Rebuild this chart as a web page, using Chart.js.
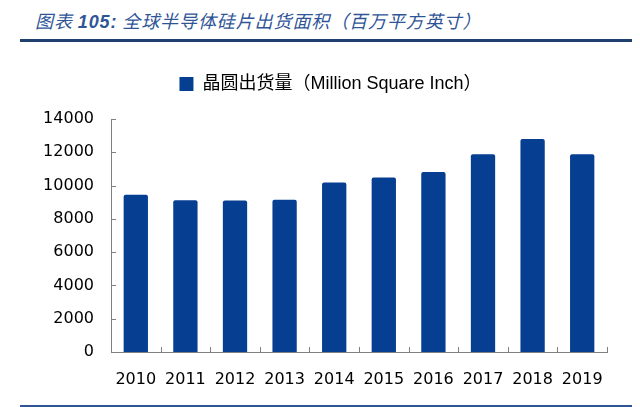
<!DOCTYPE html>
<html>
<head>
<meta charset="utf-8">
<script src="https://cdn.jsdelivr.net/npm/chart.js@4"></script>
<style>
  html, body { margin: 0; padding: 0; background: #fff; }
  body { width: 640px; height: 407px; position: relative; overflow: hidden; }
  #title { position: absolute; left: 35px; top: 7px; font: italic 18px "Noto Sans CJK SC", "DejaVu Sans", sans-serif; color: #2f5597; letter-spacing: 0.9px; white-space: nowrap; }
  #title b { font-family: "Liberation Sans", "DejaVu Sans", sans-serif; font-weight: bold; font-style: italic; }
  #topline { position: absolute; left: 20px; top: 39px; width: 612px; height: 3px; background: #1f3f6e; }
  #botline { position: absolute; left: 20px; top: 405px; width: 612px; height: 2px; background: #2f5597; }
  #wrap { position: absolute; left: 0; top: 0; width: 640px; height: 407px; }
</style>
</head>
<body>
<div id="title">图表 <b>105:</b> 全球半导体硅片出货面积（百万平方英寸）</div>
<div id="topline"></div>
<div id="botline"></div>
<div id="wrap"><canvas id="c" width="640" height="407"></canvas></div>
<script>
const categories = ["2010", "2011", "2012", "2013", "2014", "2015", "2016", "2017", "2018", "2019"];
const seriesName = "晶圆出货量（Million Square Inch）";
const shipments = [9450, 9120, 9100, 9150, 10180, 10490, 10810, 11880, 12800, 11880];
const yTicks = [0, 2000, 4000, 6000, 8000, 10000, 12000, 14000];

const barColor = "#063f92";
const axisColor = "#808080";

const innerTicks = {
  id: "innerTicks",
  beforeLayout(chart) {
    const lg = chart.legend;
    if (lg && !lg._extraGap) {
      const orig = lg.fit.bind(lg);
      lg.fit = function () { orig(); this.height += 16; };
      lg._extraGap = true;
    }
  },
  afterLayout(chart) {
    const lg = chart.legend;
    if (lg) { lg.left += 27; lg.right += 27; }
  },
  afterDatasetsDraw(chart) {
    const ctx = chart.ctx;
    const xs = chart.scales.x, ys = chart.scales.y;
    ctx.save();
    ctx.strokeStyle = axisColor;
    ctx.lineWidth = 1;
    ctx.beginPath();
    yTicks.forEach(v => {
      const y = Math.round(ys.getPixelForValue(v)) + 0.5;
      ctx.moveTo(xs.left, y);
      ctx.lineTo(xs.left + 5, y);
    });
    for (let i = 1; i <= categories.length; i++) {
      const x = Math.round(xs.getPixelForValue(i - 0.5)) + 0.5;
      ctx.moveTo(x, ys.bottom);
      ctx.lineTo(x, ys.bottom - 5);
    }
    ctx.stroke();
    ctx.restore();
  }
};

new Chart(document.getElementById("c"), {
  type: "bar",
  data: {
    labels: categories,
    datasets: [{
      label: seriesName,
      data: shipments,
      backgroundColor: barColor,
      borderRadius: 2,
      borderSkipped: "bottom",
      barPercentage: 0.49,
      categoryPercentage: 1.0
    }]
  },
  options: {
    responsive: false,
    animation: false,
    devicePixelRatio: 1,
    layout: { padding: { left: 0, right: 33, top: 65, bottom: 0 } },
    plugins: {
      tooltip: { enabled: false },
      legend: {
        position: "top",
        labels: {
          boxWidth: 14,
          boxHeight: 14,
          padding: 10,
          color: "#000",
          font: { family: "'Liberation Sans', 'Noto Sans CJK SC', sans-serif", size: 18 }
        }
      }
    },
    scales: {
      x: {
        offset: true,
        grid: { display: false, drawTicks: false },
        border: { display: true, color: axisColor, width: 1 },
        ticks: {
          color: "#000",
          padding: 18,
          maxRotation: 0,
          font: { family: "'DejaVu Sans', sans-serif", size: 16 }
        },
        afterFit(s) { s.height = 55; }
      },
      y: {
        min: 0,
        max: 14000,
        afterBuildTicks(s) { s.ticks = yTicks.map(v => ({ value: v })); },
        grid: { display: false, drawTicks: false },
        border: { display: true, color: axisColor, width: 1 },
        ticks: {
          color: "#000",
          padding: 17,
          font: { family: "'DejaVu Sans', sans-serif", size: 16 },
          callback: v => String(v)
        },
        afterFit(s) { s.width = 111; }
      }
    }
  },
  plugins: [innerTicks]
});
</script>
</body>
</html>
